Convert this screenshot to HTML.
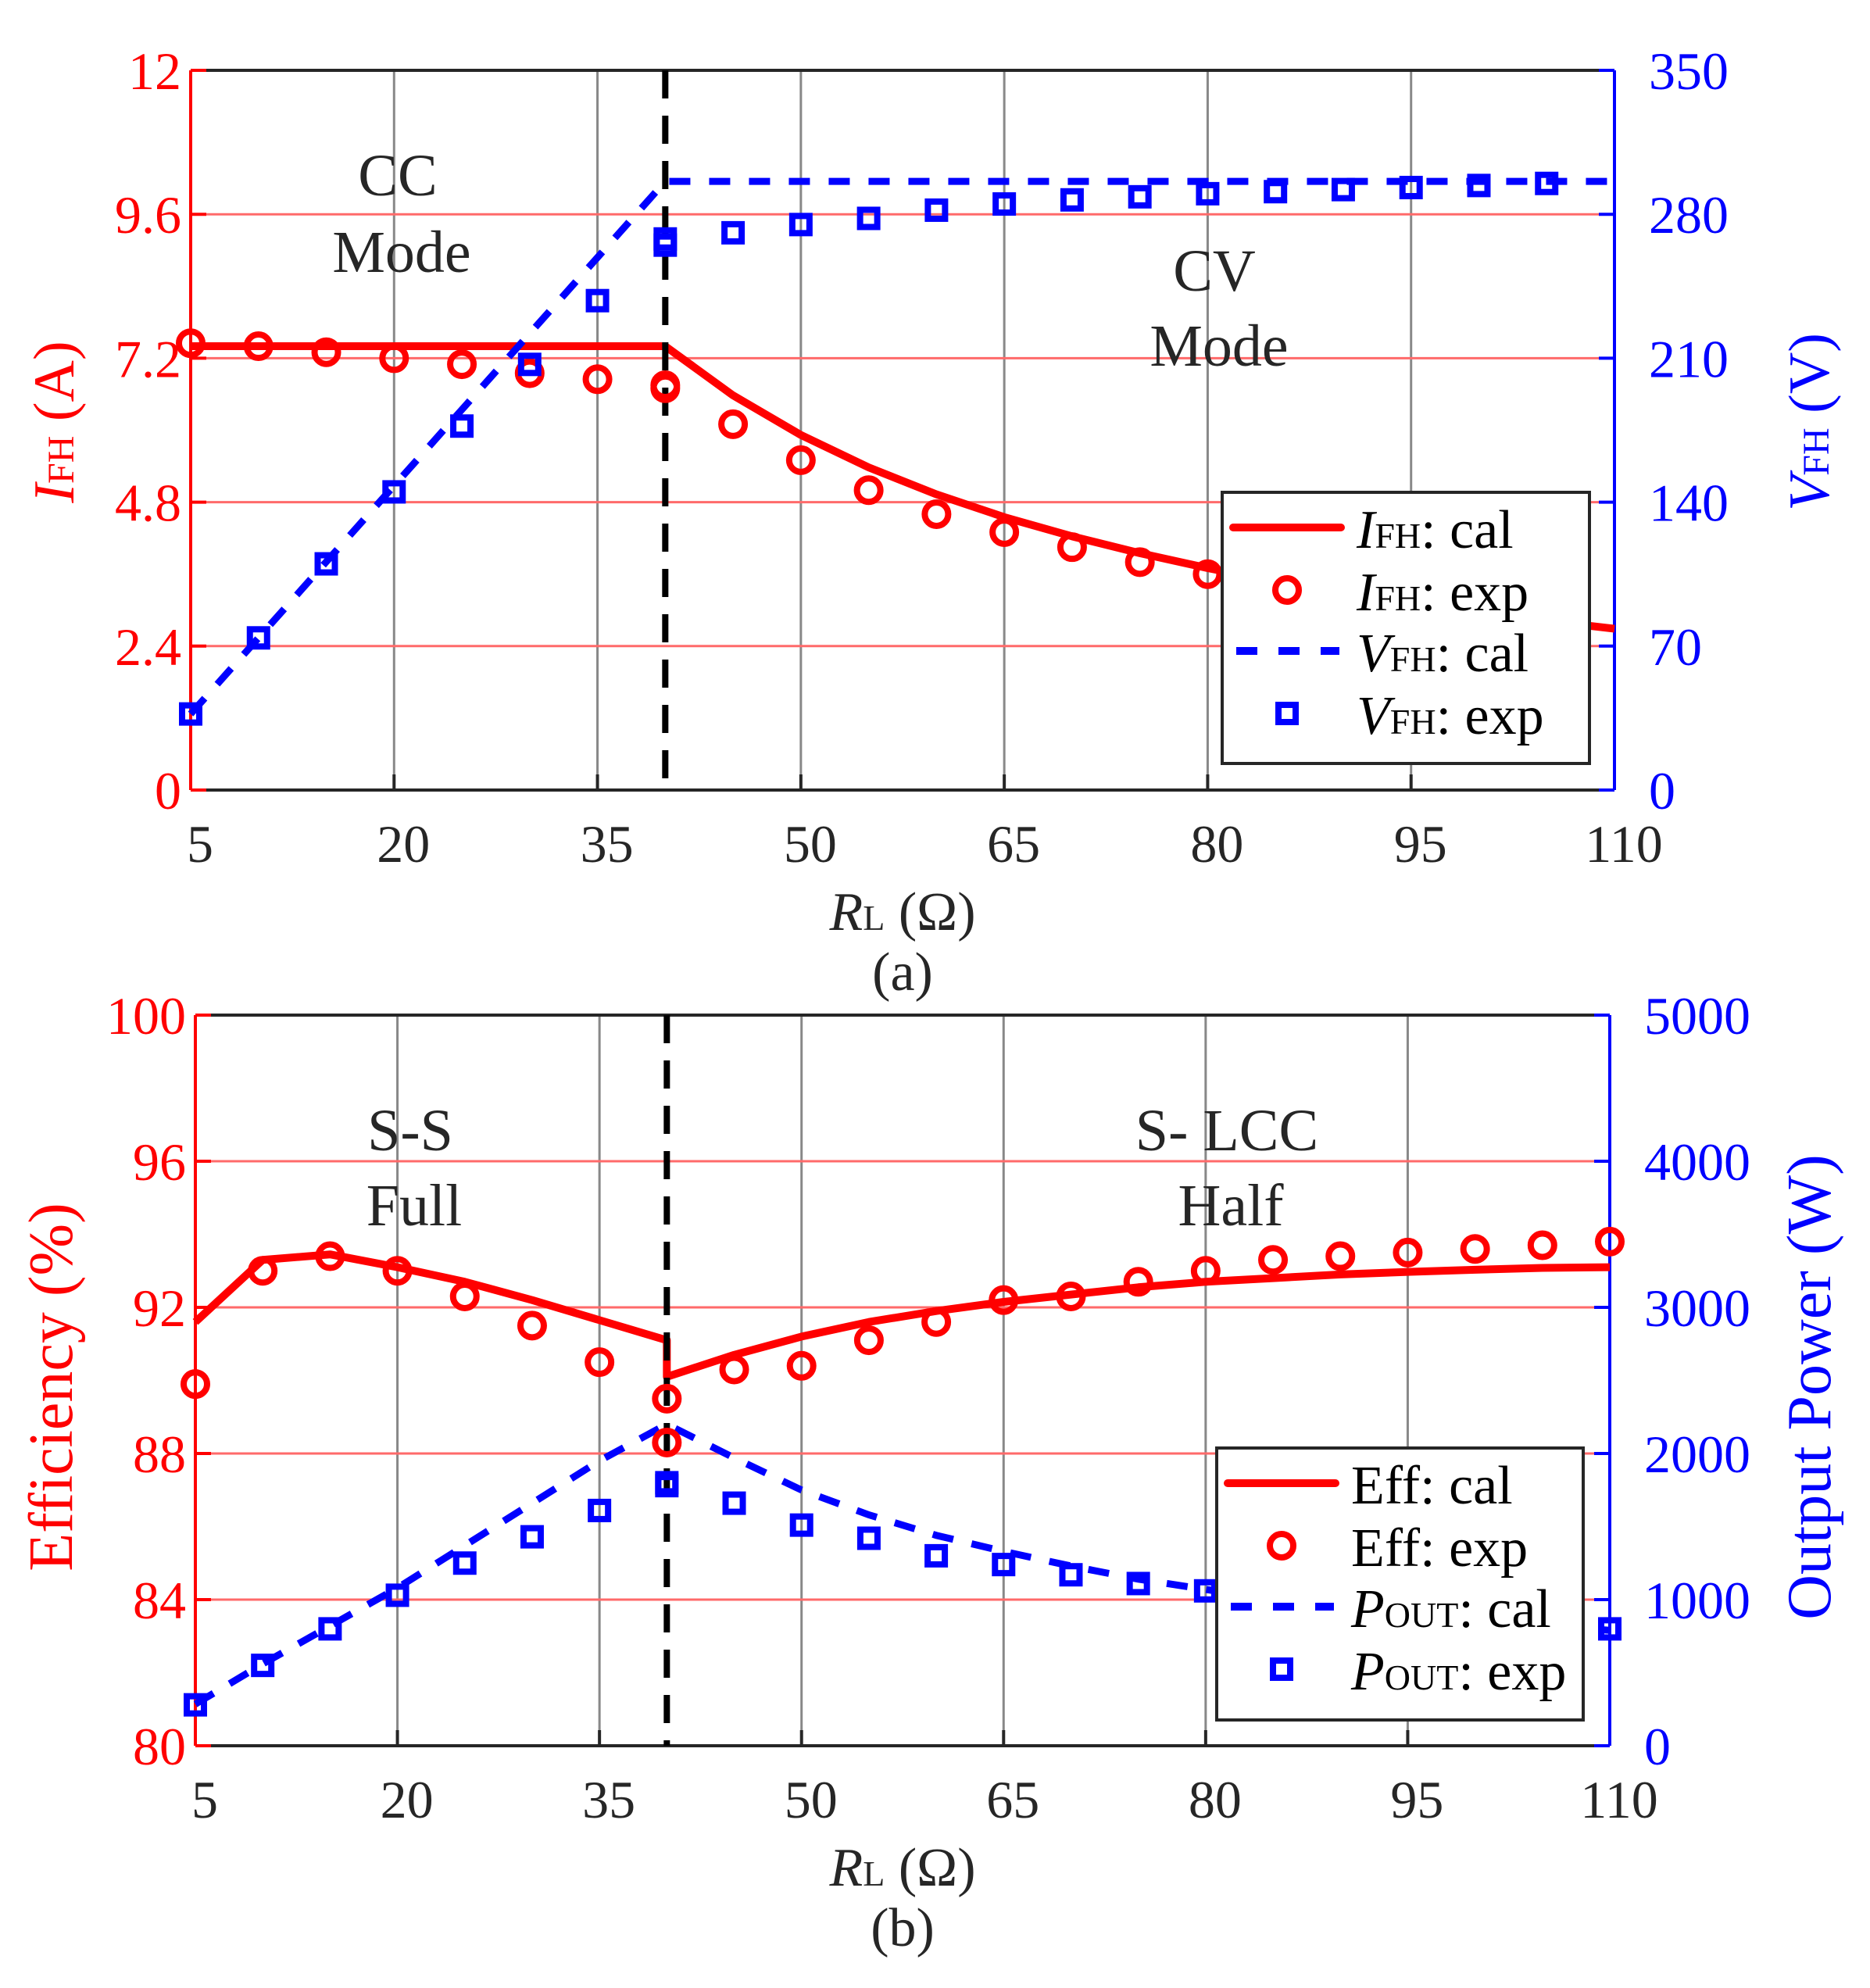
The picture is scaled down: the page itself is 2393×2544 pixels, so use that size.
<!DOCTYPE html>
<html><head><meta charset="utf-8"><style>
html,body{margin:0;padding:0;background:#fff;}
svg{display:block;font-family:"Liberation Serif",serif;}
</style></head><body>
<svg id="chart" width="2393" height="2544" viewBox="0 0 2393 2544" xmlns="http://www.w3.org/2000/svg">
<g id="pa"></g>
<g id="pb"></g>
</svg>
<script>
// Panel (a) data
const aIcalX = [5,10,15,20,25,30,35,40,45,50,55,60,65,70,75,80,85,90,95,100,105,110];
const aIcal  = [7.4,7.4,7.4,7.4,7.4,7.4,7.4,7.4,6.58,5.92,5.38,4.93,4.55,4.23,3.95,3.7,3.48,3.29,3.12,2.96,2.82,2.69];
const aIexpX = [5,10,15,20,25,30,35,40,40,45,50,55,60,65,70,75,80,85,90,95,100,105];
const aIexp  = [7.45,7.4,7.3,7.2,7.1,6.95,6.85,6.7,6.75,6.1,5.5,5.0,4.6,4.3,4.05,3.8,3.6,3.4,3.2,3.0,2.85,2.7];
const aVcalX = [5,10,15,20,25,30,35,40,45,50,55,60,65,70,75,80,85,90,95,100,105,110];
const aVcal  = [37,74,111,148,185,222,259,296,296,296,296,296,296,296,296,296,296,296,296,296,296,296];
const aVexpX = [5,10,15,20,25,30,35,40,40,45,50,55,60,65,70,75,80,85,90,95,100,105];
const aVexp  = [37,74,110,145,177,207,238,265,268,271,275,278,282,285,287,288.5,290,291,292,293,294,295];
const aLeftTicks = [0,2.4,4.8,7.2,9.6,12];
const aLeftTickLabels = ["0","2.4","4.8","7.2","9.6","12"];
const aRightTicks = [0,70,140,210,280,350];
const xTicks = [5,20,35,50,65,80,95,110];
// Panel (b) data
const bEcalX = [5,10,15,20,25,30,35,40,40,45,50,55,60,65,70,75,80,85,90,95,100,105,110];
const bEcal  = [91.6,93.3,93.45,93.1,92.7,92.2,91.65,91.1,90.1,90.7,91.2,91.6,91.9,92.15,92.35,92.55,92.7,92.8,92.9,92.97,93.03,93.08,93.1];
const bEexpX = [5,10,15,20,25,30,35,40,40,45,50,55,60,65,70,75,80,85,90,95,100,105,110];
const bEexp  = [89.9,93.0,93.4,93.0,92.3,91.5,90.5,89.5,88.3,90.3,90.4,91.1,91.6,92.2,92.3,92.7,93.0,93.3,93.4,93.5,93.6,93.7,93.8];
const bPcalX = [5,10,15,20,25,30,35,40,45,50,55,60,65,70,75,80,85,90,95,100,105,110];
const bPcal  = [285,560,820,1080,1370,1660,1950,2200,1970,1750,1580,1440,1330,1230,1140,1070,1000,950,900,860,820,790];
const bPexpX = [5,10,15,20,25,30,35,40,40,45,50,55,60,65,70,75,80,110];
const bPexp  = [280,550,800,1030,1250,1430,1610,1780,1800,1660,1510,1420,1300,1240,1170,1110,1060,800];
const bLeftTicks = [80,84,88,92,96,100];
const bRightTicks = [0,1000,2000,3000,4000,5000];

const NS="http://www.w3.org/2000/svg";
function mk(parent,tag,attrs,name,txt){
  const e=document.createElementNS(NS,tag);
  for(const k in attrs) e.setAttribute(k,attrs[k]);
  
  
  if(txt!==undefined) e.innerHTML=txt;
  parent.appendChild(e);
  return e;
}
function panel(g,P){
  const sx=v=>P.x0+(v-5)/105*(P.x1-P.x0);
  const syL=v=>P.y1-(v-P.lmin)/(P.lmax-P.lmin)*(P.y1-P.y0);
  const syR=v=>P.y1-(v-P.rmin)/(P.rmax-P.rmin)*(P.y1-P.y0);
  xTicks.forEach(t=>{ if(t>5&&t<110) mk(g,'line',{x1:sx(t),x2:sx(t),y1:P.y0,y2:P.y1,stroke:'#888','stroke-width':3},'x-gridline'); });
  P.lt.forEach(t=>{ if(t>P.lmin&&t<P.lmax) mk(g,'line',{x1:P.x0,x2:P.x1,y1:syL(t),y2:syL(t),stroke:'#ff6a6a','stroke-width':3},'y-gridline'); });
  mk(g,'line',{x1:P.x0,x2:P.x1,y1:P.y0,y2:P.y0,stroke:'#262626','stroke-width':4},'top-axis');
  mk(g,'line',{x1:P.x0,x2:P.x1,y1:P.y1,y2:P.y1,stroke:'#262626','stroke-width':4},'x-axis');
  xTicks.forEach(t=>{
    mk(g,'line',{x1:sx(t),x2:sx(t),y1:P.y1,y2:P.y1-20,stroke:'#262626','stroke-width':4},'x-tick');
    mk(g,'text',{x:sx(t)+12,y:P.y1+92,'text-anchor':'middle','font-size':68,fill:'#262626'},'x-tick-label',String(t));
  });
  mk(g,'line',{x1:P.x0,x2:P.x0,y1:P.y0,y2:P.y1,stroke:'#ff0000','stroke-width':4},'left-y-axis');
  mk(g,'line',{x1:P.x1,x2:P.x1,y1:P.y0,y2:P.y1,stroke:'#0000ff','stroke-width':4},'right-y-axis');
  P.lt.forEach((t,i)=>{
    mk(g,'line',{x1:P.x0,x2:P.x0+20,y1:syL(t),y2:syL(t),stroke:'#ff0000','stroke-width':4},'left-tick');
    mk(g,'text',{x:P.x0-12,y:syL(t)+24,'text-anchor':'end','font-size':68,fill:'#ff0000'},'left-tick-label',P.ltl[i]);
  });
  P.rt.forEach(t=>{
    mk(g,'line',{x1:P.x1-20,x2:P.x1,y1:syR(t),y2:syR(t),stroke:'#0000ff','stroke-width':4},'right-tick');
    mk(g,'text',{x:P.x1+44,y:syR(t)+24,'text-anchor':'start','font-size':68,fill:'#0000ff'},'right-tick-label',String(t));
  });
  P.ann.forEach(a=>mk(g,'text',{x:a[0],y:a[1],'text-anchor':'middle','font-size':76,fill:'#262626'},'region-label',a[2]));
  const pts=(X,Y,f)=>X.map((x,i)=>sx(x)+','+f(Y[i])).join(' ');
  mk(g,'polyline',{points:pts(P.rcX,P.rc,syL),fill:'none',stroke:'#ff0000','stroke-width':10,'stroke-linejoin':'round'},'red-cal-line');
  mk(g,'polyline',{points:pts(P.bcX,P.bc,syR),fill:'none',stroke:'#0000ff','stroke-width':9,'stroke-dasharray':'27 24'},'blue-cal-line');
  mk(g,'line',{x1:sx(40),x2:sx(40),y1:P.y0,y2:P.y1,stroke:'#000','stroke-width':8,'stroke-dasharray':'36 22'},'mode-boundary-line');
  P.reX.forEach((x,i)=>mk(g,'circle',{cx:sx(x),cy:syL(P.re[i]),r:15,fill:'none',stroke:'#ff0000','stroke-width':8},'red-exp-marker'));
  P.beX.forEach((x,i)=>mk(g,'rect',{x:sx(x)-11,y:syR(P.be[i])-11,width:22,height:22,fill:'none',stroke:'#0000ff','stroke-width':8},'blue-exp-marker'));
  const L=P.leg;
  const lg=mk(g,'g',{},'legend');
  mk(lg,'rect',{x:L.x,y:L.y,width:L.w,height:L.h,fill:'#fff',stroke:'#262626','stroke-width':4},'legend-box');
  const rows=[45,125,203,283];
  mk(lg,'line',{x1:L.x+14,x2:L.x+152,y1:L.y+rows[0],y2:L.y+rows[0],stroke:'#ff0000','stroke-width':10,'stroke-linecap':'round'},'legend-red-line');
  mk(lg,'circle',{cx:L.x+83,cy:L.y+rows[1],r:15,fill:'none',stroke:'#ff0000','stroke-width':8},'legend-red-marker');
  mk(lg,'line',{x1:L.x+18,x2:L.x+150,y1:L.y+rows[2],y2:L.y+rows[2],stroke:'#0000ff','stroke-width':10,'stroke-dasharray':'27 27'},'legend-blue-line');
  mk(lg,'rect',{x:L.x+72,y:L.y+rows[3]-11,width:22,height:22,fill:'none',stroke:'#0000ff','stroke-width':8},'legend-blue-marker');
  L.labels.forEach((t,i)=>mk(lg,'text',{x:L.x+172,y:L.y+rows[i]+26,'font-size':70,fill:'#000'},'legend-label',t));
  mk(g,'text',{x:(P.x0+P.x1)/2,y:P.y1+179,'text-anchor':'middle','font-size':70,fill:'#262626'},'x-axis-title','<tspan font-style="italic">R</tspan><tspan font-size="46">L</tspan> (Ω)');
  mk(g,'text',{x:(P.x0+P.x1)/2,y:P.y1+256,'text-anchor':'middle','font-size':70,fill:'#262626'},'panel-caption',P.cap);
  mk(g,'text',{x:0,y:0,'text-anchor':'middle','font-size':P.tfs,fill:'#ff0000',transform:`translate(${P.ltx},${P.ltcy}) rotate(-90)`},'left-y-axis-title',P.lTitle);
  mk(g,'text',{x:0,y:0,'text-anchor':'middle','font-size':P.tfs,fill:'#0000ff',transform:`translate(${P.rtx},${P.rtcy}) rotate(-90)`},'right-y-axis-title',P.rTitle);
}
panel(document.getElementById('pa'),{x0:244,x1:2066,y0:90,y1:1011,lmin:0,lmax:12,rmin:0,rmax:350,
  lt:aLeftTicks,ltl:aLeftTickLabels,rt:aRightTicks,
  rcX:aIcalX,rc:aIcal,bcX:aVcalX,bc:aVcal,reX:aIexpX,re:aIexp,beX:aVexpX,be:aVexp,
  ann:[[509,250,'CC'],[514,348,'Mode'],[1554,372,'CV'],[1560,468,'Mode']],
  leg:{x:1564,y:630,w:470,h:347,labels:['<tspan font-style="italic">I</tspan><tspan font-size="46">FH</tspan>: cal','<tspan font-style="italic">I</tspan><tspan font-size="46">FH</tspan>: exp','<tspan font-style="italic">V</tspan><tspan font-size="46">FH</tspan>: cal','<tspan font-style="italic">V</tspan><tspan font-size="46">FH</tspan>: exp']},
  cap:'(a)',tfs:74,ltx:94,ltcy:540,rtx:2340,rtcy:540,
  lTitle:'<tspan font-style="italic">I</tspan><tspan font-size="48">FH</tspan> (A)',rTitle:'<tspan font-style="italic">V</tspan><tspan font-size="48">FH</tspan> (V)'});
panel(document.getElementById('pb'),{x0:250,x1:2060,y0:1299,y1:2234,lmin:80,lmax:100,rmin:0,rmax:5000,
  lt:bLeftTicks,ltl:bLeftTicks.map(String),rt:bRightTicks,
  rcX:bEcalX,rc:bEcal,bcX:bPcalX,bc:bPcal,reX:bEexpX,re:bEexp,beX:bPexpX,be:bPexp,
  ann:[[525,1472,'S-S'],[530,1568,'Full'],[1570,1472,'S- LCC'],[1575,1568,'Half']],
  leg:{x:1557,y:1853,w:469,h:348,labels:['Eff: cal','Eff: exp','<tspan font-style="italic">P</tspan><tspan font-size="46">OUT</tspan>: cal','<tspan font-style="italic">P</tspan><tspan font-size="46">OUT</tspan>: exp']},
  cap:'(b)',tfs:80,ltx:92,ltcy:1775,rtx:2342,rtcy:1775,
  lTitle:'Efficiency (%)',rTitle:'Output Power (W)'});
</script>
</body></html>
